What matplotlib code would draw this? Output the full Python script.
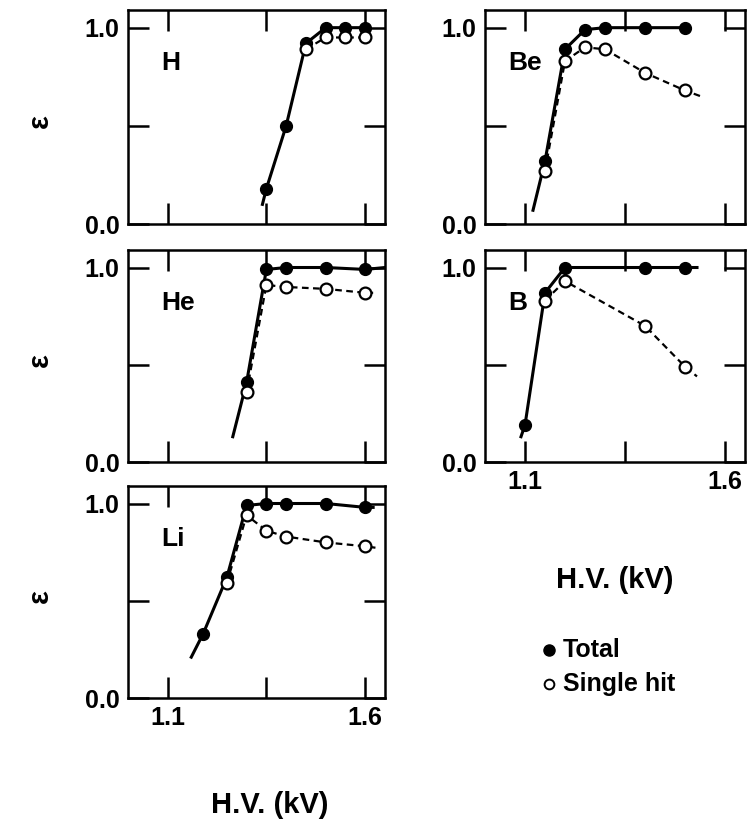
# Detection efficiency vs H.V. for H, He, Li, Be, B

import numpy as np
import matplotlib
matplotlib.use('Agg')
import matplotlib.pyplot as plt

plt.rcParams['font.family'] = ['Liberation Sans', 'DejaVu Sans']
plt.rcParams['font.weight'] = 'bold'

# H
h_tot_x = [1.35, 1.40, 1.45, 1.50, 1.55, 1.60]
h_tot_y = [0.18, 0.50, 0.92, 1.00, 1.00, 1.00]
h_sgl_x = [1.45, 1.50, 1.55, 1.60]
h_sgl_y = [0.89, 0.95, 0.95, 0.95]
h_tot_line_x = [1.34] + h_tot_x
h_tot_line_y = [0.10] + h_tot_y
h_sgl_line_x = h_sgl_x
h_sgl_line_y = h_sgl_y

# He
he_tot_x = [1.30, 1.35, 1.40, 1.50, 1.60]
he_tot_y = [0.41, 0.99, 1.00, 1.00, 0.99]
he_sgl_x = [1.30, 1.35, 1.40, 1.50, 1.60]
he_sgl_y = [0.36, 0.91, 0.90, 0.89, 0.87]
he_tot_line_x = [1.265] + he_tot_x + [1.65]
he_tot_line_y = [0.13] + he_tot_y + [1.00]
he_sgl_line_x = he_sgl_x + [1.62]
he_sgl_line_y = he_sgl_y + [0.87]

# Li
li_tot_x = [1.19, 1.25, 1.30, 1.35, 1.40, 1.50, 1.60]
li_tot_y = [0.33, 0.62, 0.99, 1.00, 1.00, 1.00, 0.98]
li_sgl_x = [1.25, 1.30, 1.35, 1.40, 1.50, 1.60]
li_sgl_y = [0.59, 0.94, 0.86, 0.83, 0.80, 0.78]
li_tot_line_x = [1.16] + li_tot_x + [1.62]
li_tot_line_y = [0.21] + li_tot_y + [0.98]
li_sgl_line_x = li_sgl_x + [1.635]
li_sgl_line_y = li_sgl_y + [0.77]

# Be
be_tot_x = [1.15, 1.20, 1.25, 1.30, 1.40, 1.50]
be_tot_y = [0.32, 0.89, 0.99, 1.00, 1.00, 1.00]
be_sgl_x = [1.15, 1.20, 1.25, 1.30, 1.40, 1.50]
be_sgl_y = [0.27, 0.83, 0.90, 0.89, 0.77, 0.68]
be_tot_line_x = [1.12] + be_tot_x
be_tot_line_y = [0.07] + be_tot_y
be_sgl_line_x = be_sgl_x + [1.54]
be_sgl_line_y = be_sgl_y + [0.65]

# B
b_tot_x = [1.10, 1.15, 1.20, 1.40, 1.50]
b_tot_y = [0.19, 0.87, 1.00, 1.00, 1.00]
b_sgl_x = [1.15, 1.20, 1.40, 1.50]
b_sgl_y = [0.83, 0.93, 0.70, 0.49]
b_tot_line_x = [1.09] + b_tot_x + [1.53]
b_tot_line_y = [0.13] + b_tot_y + [1.00]
b_sgl_line_x = b_sgl_x + [1.53]
b_sgl_line_y = b_sgl_y + [0.44]

fig = plt.figure(figsize=(7.48, 8.30), dpi=100)

L, W_L = 128/748, 257/748
R, W_R = 485/748, 260/748
rows = [(1 - 224/830, 214/830), (1 - 462/830, 212/830), (1 - 698/830, 212/830)]

def panel(rect, name, tx, ty, sx, sy, tlx, tly, slx, sly, xlabels, name_x):
    ax = fig.add_axes(rect)
    ax.plot(tlx, tly, '-', color='black', lw=2.2, zorder=2)
    ax.plot(slx, sly, '--', color='black', lw=1.6, dashes=(3, 2), zorder=2)
    ax.plot(tx, ty, 'o', color='black', ms=8.5, zorder=3)
    ax.plot(sx, sy, 'o', mfc='white', mec='black', mew=1.6, ms=8.5, zorder=4)
    ax.set_xlim(1.0, 1.65)
    ax.set_ylim(0.0, 1.09)
    ax.set_xticks([1.1, 1.35, 1.6])
    ax.set_yticks([0.0, 0.5, 1.0])
    ax.set_yticklabels(['0.0', '', '1.0'])
    if xlabels:
        ax.set_xticklabels(['1.1', '', '1.6'])
    else:
        ax.set_xticklabels([])
    ax.tick_params(direction='in', length=15, width=1.8, top=True, right=True,
                   labelsize=18, pad=6)
    for s in ax.spines.values():
        s.set_linewidth(1.8)
    ax.text(name_x, 0.75, name, transform=ax.transAxes, fontsize=19,
            fontweight='bold', ha='left', va='center')
    return ax

panel([L, rows[0][0], W_L, rows[0][1]], 'H', h_tot_x, h_tot_y, h_sgl_x, h_sgl_y,
      h_tot_line_x, h_tot_line_y, h_sgl_line_x, h_sgl_line_y, False, 0.13)
panel([L, rows[1][0], W_L, rows[1][1]], 'He', he_tot_x, he_tot_y, he_sgl_x, he_sgl_y,
      he_tot_line_x, he_tot_line_y, he_sgl_line_x, he_sgl_line_y, False, 0.13)
panel([L, rows[2][0], W_L, rows[2][1]], 'Li', li_tot_x, li_tot_y, li_sgl_x, li_sgl_y,
      li_tot_line_x, li_tot_line_y, li_sgl_line_x, li_sgl_line_y, True, 0.13)
panel([R, rows[0][0], W_R, rows[0][1]], 'Be', be_tot_x, be_tot_y, be_sgl_x, be_sgl_y,
      be_tot_line_x, be_tot_line_y, be_sgl_line_x, be_sgl_line_y, False, 0.09)
panel([R, rows[1][0], W_R, rows[1][1]], 'B', b_tot_x, b_tot_y, b_sgl_x, b_sgl_y,
      b_tot_line_x, b_tot_line_y, b_sgl_line_x, b_sgl_line_y, True, 0.09)

# epsilon labels
for y0, h in rows:
    fig.text(40/748, y0 + h/2 - 0.005, 'ε', rotation=90, fontsize=21,
             fontweight='bold', ha='center', va='center')

fig.text(270/748, 1 - 805/830, 'H.V. (kV)', fontsize=21, fontweight='bold',
         ha='center', va='center')
fig.text(615/748, 1 - 580/830, 'H.V. (kV)', fontsize=21, fontweight='bold',
         ha='center', va='center')

# legend
fig.lines.append(plt.Line2D([549/748], [1 - 650/830], marker='o', color='black',
                            ms=8, transform=fig.transFigure))
fig.lines.append(plt.Line2D([549/748], [1 - 684/830], marker='o', mfc='white',
                            mec='black', mew=1.4, ms=7, transform=fig.transFigure))
fig.text(563/748, 1 - 650/830, 'Total', fontsize=18, fontweight='bold',
         ha='left', va='center')
fig.text(563/748, 1 - 684/830, 'Single hit', fontsize=18, fontweight='bold',
         ha='left', va='center')

plt.savefig('out.png', dpi=100)
